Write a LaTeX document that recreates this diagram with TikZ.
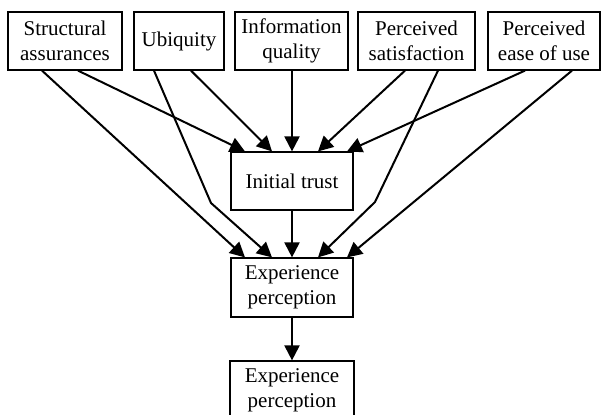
\documentclass[tikz,border=0pt]{standalone}
\usepackage{fontspec}
\setmainfont{Liberation Serif}
\usetikzlibrary{arrows.meta}
\begin{document}
\begin{tikzpicture}[x=0.5pt,y=-0.5pt,
  box/.style={draw,line width=0.6pt,rectangle,inner sep=0pt,align=center,
    font=\fontsize{10.5}{12.5}\selectfont},
  arr/.style={line width=1pt,-{Triangle[length=7.5pt,width=7.5pt]}}]
\useasboundingbox (0,0) rectangle (601,414);
\node[box,minimum width=57pt,minimum height=29pt] (sa) at (65,41) {Structural\\assurances};
\node[box,minimum width=45pt,minimum height=29pt] (ub) at (179,41) {Ubiquity};
\node[box,minimum width=56.5pt,minimum height=29pt] (iq) at (291.5,41) {Information\\quality};
\node[box,minimum width=58.5pt,minimum height=29pt] (ps) at (416.5,41) {Perceived\\satisfaction};
\node[box,minimum width=56pt,minimum height=29pt] (pe) at (544,41) {Perceived\\ease of use};
\node[box,minimum width=61pt,minimum height=29pt] (it) at (292,181) {Initial trust};
\node[box,minimum width=61pt,minimum height=29.5pt] (ep) at (292,287.5) {Experience\\perception};
\node[box,minimum width=62pt,minimum height=29pt] (eq) at (292,390) {Experience\\perception};
\coordinate (ubb) at (211,203);
\coordinate (psb) at (375,202);
% to initial trust
\draw[arr] ([xshift=6.5pt]sa.south) -- ([xshift=-23.5pt]it.north);
\draw[arr] ([xshift=6pt]ub.south) -- ([xshift=-10pt]it.north);
\draw[arr] ([xshift=0.25pt]iq.south) -- (it.north);
\draw[arr] ([xshift=-5.75pt]ps.south) -- ([xshift=13pt]it.north);
\draw[arr] ([xshift=-9.5pt]pe.south) -- ([xshift=27.5pt]it.north);
% to experience perception
\draw[arr] ([xshift=-11.5pt]sa.south) -- ([xshift=-23.5pt]ep.north);
\draw[arr] ([xshift=-12.5pt]ub.south) -- (ubb) -- ([xshift=-10pt]ep.north);
\draw[arr] (it.south) -- (ep.north);
\draw[arr] ([xshift=10.75pt]ps.south) -- (psb) -- ([xshift=13pt]ep.north);
\draw[arr] ([xshift=14pt]pe.south) -- ([xshift=27.5pt]ep.north);
\draw[arr] (ep.south) -- (eq.north);
\end{tikzpicture}
\end{document}
